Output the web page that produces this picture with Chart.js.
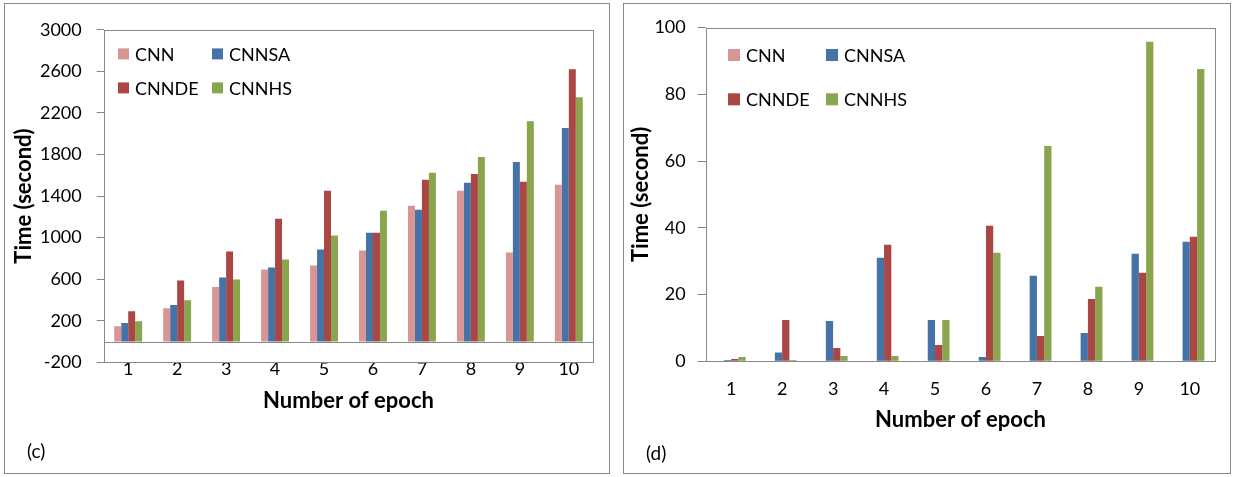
<!DOCTYPE html>
<html>
<head>
<meta charset="utf-8">
<title>Training time per epoch</title>
<script src="https://cdn.jsdelivr.net/npm/chart.js@4.4.0/dist/chart.umd.min.js"></script>
<style>
  body { margin: 0; width: 1235px; height: 477px; background: #fff; position: relative; overflow: hidden; }
  .panel { position: absolute; border: 1px solid #878787; box-sizing: border-box; }
  .box { position: absolute; }
  .tag { position: absolute; font: 19px Lato, sans-serif; color: #000; line-height: 1; }
</style>
</head>
<body>
<div class="panel" style="left:4px; top:3px; width:606px; height:471px;"></div>
<div class="panel" style="left:623px; top:3px; width:608px; height:471px;"></div>
<div class="box" style="left:5px; top:4px; width:603px; height:468px;"><canvas id="chartC"></canvas></div>
<div class="box" style="left:624px; top:4px; width:605px; height:468px;"><canvas id="chartD"></canvas></div>
<div class="tag" style="left:27px; top:441px;">(c)</div>
<div class="tag" style="left:646px; top:443px;">(d)</div>

<script>
// categories
const epochs = ['1', '2', '3', '4', '5', '6', '7', '8', '9', '10'];
const seriesNames = ['CNN', 'CNNSA', 'CNNDE', 'CNNHS'];
const seriesColors = ['#D79593', '#4572A7', '#AA4643', '#89A54E'];

// (c) time in seconds
const cnnC   = [147, 319, 524, 693, 731, 875, 1307, 1450, 857, 1508];
const cnnsaC = [179, 351, 616, 712, 885, 1048, 1269, 1527, 1728, 2054];
const cnndeC = [291, 588, 866, 1182, 1450, 1048, 1557, 1613, 1537, 2620];
const cnnhsC = [195, 396, 597, 789, 1020, 1259, 1624, 1776, 2121, 2351];
const yTicksC = [-200, 200, 600, 1000, 1400, 1800, 2200, 2600, 3000];

// (d) time in seconds
const cnnD   = [0, 0, 0, 0, 0, 0, 0, 0, 0, 0];
const cnnsaD = [0.4, 2.6, 12.1, 31.0, 12.4, 1.3, 25.6, 8.5, 32.2, 35.8];
const cnndeD = [0.7, 12.4, 4.0, 34.9, 4.9, 40.6, 7.6, 18.7, 26.5, 37.3];
const cnnhsD = [1.3, 0.4, 1.6, 1.6, 12.4, 32.5, 64.5, 22.3, 95.7, 87.6];
const yTicksD = [0, 20, 40, 60, 80, 100];

const GRAY = '#878787';
const FONT = 'Lato, sans-serif';

// box around the plot area, plus the zero line when the axis goes below 0
const plotFrame = {
    id: 'plotFrame',
    beforeDatasetsDraw(chart, args, opts) {
        const { ctx, chartArea: a } = chart;
        const l = Math.round(a.left) + 0.5, t = Math.round(a.top) + 0.5;
        const r = Math.round(a.right) + 0.5, b = Math.round(a.bottom) + 0.5;
        ctx.save();
        ctx.strokeStyle = GRAY;
        ctx.lineWidth = 1;
        ctx.strokeRect(l, t, r - l, b - t);
        if (opts.zeroLine) {
            const y = Math.round(chart.scales.y.getPixelForValue(0)) + 0.5;
            ctx.beginPath();
            ctx.moveTo(l, y);
            ctx.lineTo(r, y);
            ctx.stroke();
        }
        ctx.restore();
    }
};

// legend in two rows inside the plot, like the original
const boxLegend = {
    id: 'boxLegend',
    afterDraw(chart, args, o) {
        const { ctx, chartArea: a } = chart;
        ctx.save();
        ctx.font = '18px ' + FONT;
        ctx.textBaseline = 'middle';
        chart.data.datasets.forEach((ds, i) => {
            const x = a.left + o.x + (i % 2) * o.colGap;
            const y = a.top + o.y + Math.floor(i / 2) * o.rowGap;
            ctx.fillStyle = ds.backgroundColor;
            ctx.fillRect(x, y, o.size, o.size);
            ctx.fillStyle = '#000';
            ctx.fillText(ds.label, x + o.size + 6, y + o.size / 2 + 1);
        });
        ctx.restore();
    }
};

function makeChart(id, series, cfg) {
    const ctx = document.getElementById(id).getContext('2d');
    return new Chart(ctx, {
        type: 'bar',
        data: {
            labels: epochs,
            datasets: series.map((values, i) => ({
                label: seriesNames[i],
                data: values,
                backgroundColor: seriesColors[i],
                borderWidth: 0,
                categoryPercentage: 0.57,
                barPercentage: 1
            }))
        },
        options: {
            responsive: true,
            maintainAspectRatio: false,
            animation: false,
            layout: { padding: { left: 0, top: cfg.padTop, right: cfg.padRight, bottom: 0 } },
            plugins: {
                legend: { display: false },
                tooltip: { enabled: false },
                plotFrame: { zeroLine: cfg.zeroLine },
                boxLegend: cfg.legend
            },
            scales: {
                x: {
                    afterFit: s => { s.height = cfg.xHeight; },
                    border: { display: false },
                    grid: { display: false, drawTicks: false },
                    ticks: { padding: cfg.xPad, color: '#000', font: { family: FONT, size: 18, lineHeight: 1 } },
                    title: {
                        display: true,
                        text: 'Number of epoch',
                        color: '#000',
                        font: { family: FONT, size: 22, weight: 'bold' },
                        padding: { top: 0, bottom: cfg.xTitlePad }
                    }
                },
                y: {
                    min: cfg.yTicks[0],
                    max: cfg.yTicks[cfg.yTicks.length - 1],
                    afterBuildTicks: s => { s.ticks = cfg.yTicks.map(v => ({ value: v })); },
                    afterFit: s => { s.width = cfg.yWidth; },
                    border: { display: false },
                    grid: { drawOnChartArea: false, drawTicks: true, tickLength: cfg.tickLen, tickColor: GRAY },
                    ticks: {
                        padding: cfg.yPad,
                        color: '#000',
                        font: { family: FONT, size: 18 },
                        callback: v => String(v)
                    },
                    title: {
                        display: true,
                        text: 'Time (second)',
                        color: '#000',
                        font: { family: FONT, size: 22, weight: 'bold' },
                        padding: { top: cfg.yTitlePad, bottom: 0 }
                    }
                }
            }
        },
        plugins: [plotFrame, boxLegend]
    });
}

document.addEventListener('DOMContentLoaded', () => {
    makeChart('chartC', [cnnC, cnnsaC, cnndeC, cnnhsC], {
        yTicks: yTicksC,
        zeroLine: true,
        padTop: 24.7, padRight: 14.7,
        yWidth: 98.7, xHeight: 109.7,
        tickLen: 7, yPad: 15, xPad: -2,
        xTitlePad: 58, yTitlePad: 5.8,
        legend: { x: 14.3, y: 18.6, size: 11, colGap: 94, rowGap: 34 }
    });
    makeChart('chartD', [cnnD, cnnsaD, cnndeD, cnnhsD], {
        yTicks: yTicksD,
        zeroLine: false,
        padTop: 23.5, padRight: 13.7,
        yWidth: 81.7, xHeight: 110.7,
        tickLen: 8, yPad: 12, xPad: 18.4,
        xTitlePad: 38.8, yTitlePad: 3.8,
        legend: { x: 22.3, y: 21.5, size: 12, colGap: 98, rowGap: 44.3 }
    });
});
</script>
</body>
</html>
